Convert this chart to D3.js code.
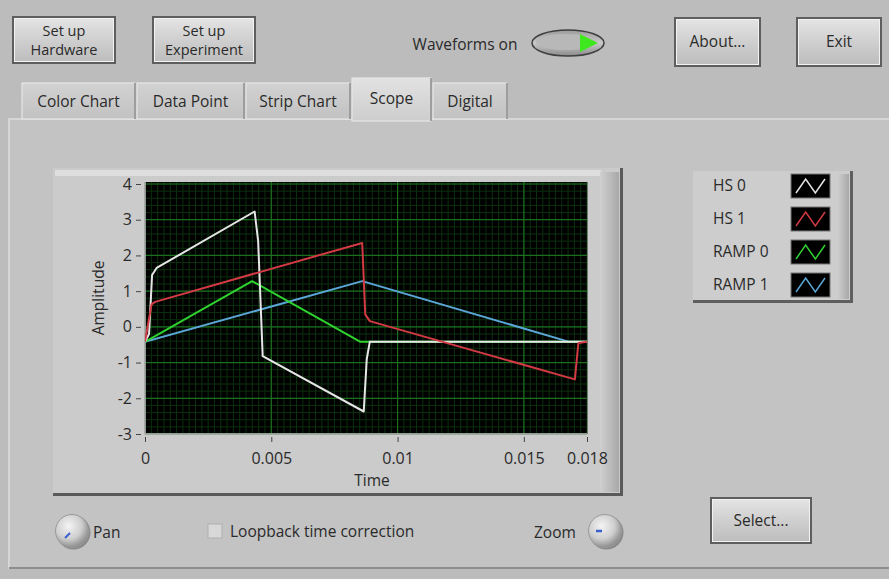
<!DOCTYPE html>
<html><head><meta charset="utf-8">
<script src="https://cdn.jsdelivr.net/npm/d3@7"></script>
<style>
html,body{margin:0;padding:0;background:#bcbcbc;overflow:hidden}
svg{display:block}
text{font-family:"Open Sans","DejaVu Sans",sans-serif;fill:#2a2a2a}
</style></head>
<body>
<svg id="c" width="889" height="579"></svg>
<script>
// ---- data ----
const tabs = ["Color Chart","Data Point","Strip Chart","Scope","Digital"];
const seriesNames = ["HS 0","HS 1","RAMP 0","RAMP 1"];
const seriesColors = ["#e6e6e6","#d23a44","#2fd22f","#5ba6d6"];
const hs0Time = [0,0.00016,0.00028,0.00046,0.00434,0.00448,0.00466,0.00866,0.00878,0.00890,0.0175];
const hs0Amp  = [-0.42,-0.2,1.45,1.65,3.23,2.4,-0.82,-2.37,-0.9,-0.42,-0.42];
const hs1Time = [0,0.00026,0.0004,0.0086,0.00872,0.0089,0.01702,0.01716,0.0175];
const hs1Amp  = [-0.42,0.63,0.7,2.35,0.35,0.16,-1.47,-0.45,-0.42];
const ramp0Time = [0,0.00424,0.00853,0.0175];
const ramp0Amp  = [-0.42,1.28,-0.42,-0.42];
const ramp1Time = [0,0.0086,0.0168,0.0175];
const ramp1Amp  = [-0.42,1.28,-0.42,-0.42];
const xTicks = [0,0.005,0.01,0.015,0.0175];
const xTickLabels = ["0","0.005","0.01","0.015","0.018"];
const yTicks = [-3,-2,-1,0,1,2,3,4];
const yTickLabels = ["-3","-2","-1","0","1","2","3","4"];
const xDomain = [0,0.0175];
const yDomain = [-3,4];

const FS = "15.5px";
const svg = d3.select("#c");
const defs = svg.append("defs");
function lin(id, stops, x2, y2){
  const g = defs.append("linearGradient").attr("id",id).attr("x1",0).attr("y1",0).attr("x2",x2||0).attr("y2",y2===undefined?1:y2);
  stops.forEach(s=>g.append("stop").attr("offset",s[0]).attr("stop-color",s[1]));
}
lin("btn",[[0,"#e4e4e4"],[0.5,"#cfcfcf"],[1,"#bdbdbd"]]);
lin("tab",[[0,"#d2d2d2"],[1,"#c2c2c2"]]);
lin("tabSel",[[0,"#e2e2e2"],[1,"#cdcdcd"]]);
lin("oval",[[0,"#9a9a9a"],[0.5,"#c8c8c8"],[1,"#8a8a8a"]]);
lin("frameR",[[0,"#d0d0d0"],[1,"#a8a8a8"]],1,0);
const rg = defs.append("radialGradient").attr("id","knob").attr("cx","40%").attr("cy","35%").attr("r","65%");
[[0,"#f4f4f4"],[0.6,"#cfcfcf"],[1,"#8f8f8f"]].forEach(s=>rg.append("stop").attr("offset",s[0]).attr("stop-color",s[1]));

// background
svg.append("rect").attr("width",889).attr("height",579).attr("fill","#bcbcbc");
// tab panel
svg.append("rect").attr("x",9).attr("y",119).attr("width",890).attr("height",449).attr("fill","#c3c3c3")
  .attr("stroke","#d6d6d6").attr("stroke-width",2);
svg.append("line").attr("x1",9).attr("x2",889).attr("y1",568).attr("y2",568).attr("stroke","#8e8e8e").attr("stroke-width",2);

// buttons
function button(x,y,w,h,lines){
  const g = svg.append("g");
  g.append("rect").attr("x",x).attr("y",y).attr("width",w).attr("height",h).attr("fill","#5e5e5e");
  g.append("rect").attr("x",x+2).attr("y",y+2).attr("width",w-4).attr("height",h-4).attr("fill","url(#btn)");
  g.append("rect").attr("x",x+2.5).attr("y",y+2.5).attr("width",w-5).attr("height",h-5).attr("fill","none").attr("stroke","#f2f2f2").attr("stroke-width",1);
  const cy = y+h/2, n = lines.length;
  lines.forEach((t,i)=>g.append("text").attr("x",x+w/2).attr("y",cy+(i-(n-1)/2)*19+5)
    .attr("text-anchor","middle").style("font-size",n>1?"14.5px":FS).text(t));
}
button(12,16,104,48,["Set up","Hardware"]);
button(152,16,104,48,["Set up","Experiment"]);
button(674,17,87,50,["About..."]);
button(796,17,86,50,["Exit"]);

// waveforms toggle
svg.append("text").attr("x",465).attr("y",50).attr("text-anchor","middle").style("font-size",FS).text("Waveforms on");
svg.append("ellipse").attr("cx",568).attr("cy",43).attr("rx",36).attr("ry",13).attr("fill","url(#oval)").attr("stroke","#3e3e3e").attr("stroke-width",1.5);
svg.append("ellipse").attr("cx",566).attr("cy",42).attr("rx",30).attr("ry",8).attr("fill","#b8b8b8");
svg.append("path").attr("d","M580,34 L598,43 L580,52 Z").attr("fill","#3fe81e");

// tabs
const tabX = [22,137,246,352,433], tabW = [113,107,104,79,74];
tabs.forEach((t,i)=>{
  const sel = t==="Scope";
  const g = svg.append("g");
  const y0 = sel?78:83, h = sel?43:36;
  g.append("rect").attr("x",tabX[i]).attr("y",y0).attr("width",tabW[i]).attr("height",h)
    .attr("fill",sel?"url(#tabSel)":"url(#tab)").attr("stroke","#e6e6e6").attr("stroke-width",1.2);
  g.append("line").attr("x1",tabX[i]+tabW[i]).attr("x2",tabX[i]+tabW[i]).attr("y1",y0).attr("y2",y0+h).attr("stroke","#8a8a8a").attr("stroke-width",1.5);
  g.append("text").attr("x",tabX[i]+tabW[i]/2).attr("y",sel?104:107).attr("text-anchor","middle").style("font-size",FS).text(t);
});

// graph frame
svg.append("rect").attr("x",53).attr("y",168).attr("width",570).attr("height",328).attr("fill","#5a5a5a");
svg.append("rect").attr("x",53).attr("y",168).attr("width",567).attr("height",325).attr("fill","#cbcbcb");
svg.append("rect").attr("x",55).attr("y",170).attr("width",546).attr("height",6).attr("fill","#dedede");
svg.append("rect").attr("x",600).attr("y",172).attr("width",19).attr("height",320).attr("fill","url(#frameR)");

// plot area
const L=145,R=587,T=182,B=434;
const x = d3.scaleLinear().domain(xDomain).range([L,R]);
const y = d3.scaleLinear().domain(yDomain).range([B,T+2]);
svg.append("rect").attr("x",L).attr("y",T).attr("width",R-L).attr("height",B-T).attr("fill","#000");
const grid = svg.append("g");
// minor grid
d3.range(0,0.01751,0.00025).forEach(v=>grid.append("line").attr("x1",x(v)).attr("x2",x(v)).attr("y1",T).attr("y2",B).attr("stroke","#0c300e").attr("stroke-width",1));
d3.range(-3,4.01,0.2).forEach(v=>grid.append("line").attr("x1",L).attr("x2",R).attr("y1",y(v)).attr("y2",y(v)).attr("stroke","#0c300e").attr("stroke-width",1));
// major grid
[0.005,0.01,0.015].forEach(v=>grid.append("line").attr("x1",x(v)).attr("x2",x(v)).attr("y1",T).attr("y2",B).attr("stroke","#1b6e1f").attr("stroke-width",1.2));
yTicks.forEach(v=>grid.append("line").attr("x1",L).attr("x2",R).attr("y1",y(v)).attr("y2",y(v)).attr("stroke","#1b6e1f").attr("stroke-width",1.2));
// plot border
svg.append("path").attr("d",`M${L},${T} L${L},${B} L${R},${B}`).attr("fill","none").attr("stroke","#bcbcbc").attr("stroke-width",1.5);

// series
const series = [
  {name:"RAMP 1",t:ramp1Time,a:ramp1Amp,c:seriesColors[3]},
  {name:"RAMP 0",t:ramp0Time,a:ramp0Amp,c:seriesColors[2]},
  {name:"HS 0",t:hs0Time,a:hs0Amp,c:seriesColors[0]},
  {name:"HS 1",t:hs1Time,a:hs1Amp,c:seriesColors[1]},
];
const line = d3.line().x(d=>x(d[0])).y(d=>y(d[1]));
const clip = defs.append("clipPath").attr("id","pc");
clip.append("rect").attr("x",L).attr("y",T).attr("width",R-L+1).attr("height",B-T);
series.forEach(s=>{
  svg.append("path").attr("clip-path","url(#pc)").attr("d",line(s.t.map((t,i)=>[t,s.a[i]])))
    .attr("fill","none").attr("stroke",s.c).attr("stroke-width",2).attr("stroke-linejoin","round");
});

// axes
const yAxis = d3.axisLeft(y).tickValues(yTicks).tickSize(5).tickPadding(4).tickFormat((d,i)=>yTickLabels[i]);
const gy = svg.append("g").attr("transform",`translate(${L-4},0)`).call(yAxis);
gy.select(".domain").remove();
gy.selectAll(".tick line").attr("stroke","#444");
gy.selectAll("text").style("font-size","16px").attr("fill","#333").style("font-family","'Open Sans',sans-serif");
const xAxis = d3.axisBottom(x).tickValues(xTicks).tickSize(5).tickPadding(11).tickFormat((d,i)=>xTickLabels[i]);
const gx = svg.append("g").attr("transform",`translate(0,${B+3})`).call(xAxis);
gx.select(".domain").remove();
gx.selectAll(".tick line").attr("stroke","#444");
gx.selectAll("text").style("font-size","16px").attr("fill","#333").style("font-family","'Open Sans',sans-serif");
svg.append("text").attr("x",372).attr("y",486).attr("text-anchor","middle").style("font-size",FS).text("Time");
svg.append("text").attr("transform","translate(104,298) rotate(-90)").attr("text-anchor","middle").style("font-size",FS).text("Amplitude");

// legend
svg.append("rect").attr("x",693).attr("y",171).attr("width",160).attr("height",132).attr("fill","#5f5f5f");
svg.append("rect").attr("x",693).attr("y",171).attr("width",157).attr("height",129).attr("fill","#cdcdcd");
svg.append("rect").attr("x",837).attr("y",174).attr("width",12).attr("height",125).attr("fill","url(#frameR)");
const legY = [186,219,252,285];
seriesNames.forEach((n,i)=>{
  svg.append("text").attr("x",713).attr("y",legY[i]+5).style("font-size",FS).text(n);
  svg.append("rect").attr("x",791).attr("y",legY[i]-12).attr("width",39).attr("height",24).attr("fill","#000").attr("stroke","#777");
  const sx = d3.scaleLinear().domain([0,3]).range([796,825]);
  const sy = d3.scaleLinear().domain([0,1]).range([legY[i]+7,legY[i]-7]);
  svg.append("path").attr("d",d3.line().x(d=>sx(d[0])).y(d=>sy(d[1]))([[0,0],[1,1],[2,0],[3,1]]))
    .attr("fill","none").attr("stroke",seriesColors[i]).attr("stroke-width",1.5);
});

// bottom controls
function knob(cx,cy,mark){
  svg.append("circle").attr("cx",cx+1.5).attr("cy",cy+1.5).attr("r",17).attr("fill","#8a8a8a");
  svg.append("circle").attr("cx",cx).attr("cy",cy).attr("r",16.5).attr("fill","url(#knob)").attr("stroke","#9a9a9a").attr("stroke-width",1);
  if(mark==="pan") svg.append("line").attr("x1",cx-7).attr("y1",cy+7).attr("x2",cx-2).attr("y2",cy+2).attr("stroke","#3a5fd0").attr("stroke-width",2);
  else svg.append("line").attr("x1",cx-9).attr("y1",cy).attr("x2",cx-3).attr("y2",cy).attr("stroke","#3a5fd0").attr("stroke-width",2.5);
}
knob(72,531,"pan");
svg.append("text").attr("x",93).attr("y",538).style("font-size",FS).text("Pan");
svg.append("rect").attr("x",208).attr("y",524).attr("width",14).attr("height",14).attr("fill","#d8d8d8").attr("stroke","#b0b0b0");
svg.append("text").attr("x",230).attr("y",537).style("font-size",FS).text("Loopback time correction");
svg.append("text").attr("x",534).attr("y",538).style("font-size",FS).text("Zoom");
knob(605,531,"zoom");
button(710,497,102,47,["Select..."]);
</script>
</body></html>
